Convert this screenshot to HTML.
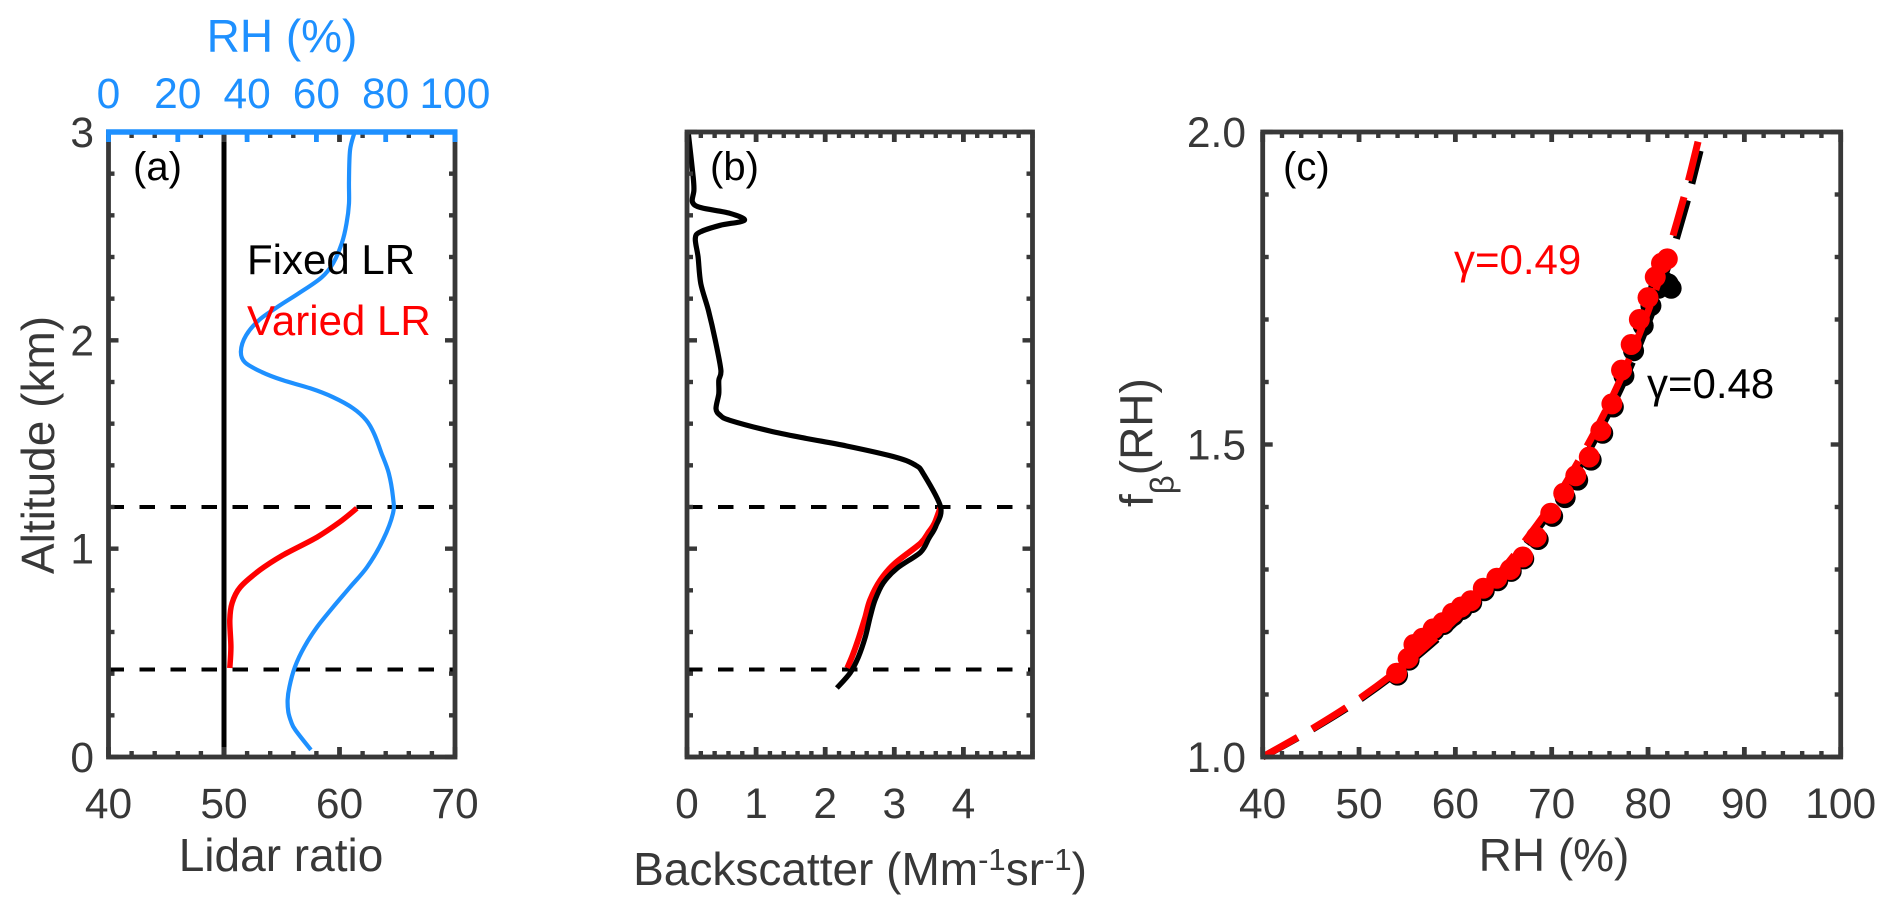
<!DOCTYPE html>
<html lang="en">
<head>
<meta charset="utf-8">
<title>Lidar ratio, backscatter and f(RH) profiles</title>
<style>
html,body{margin:0;padding:0;background:#fff;width:1892px;height:911px;overflow:hidden}
svg{display:block;font-family:"Liberation Sans",Arial,sans-serif}
</style>
</head>
<body>
<svg id="chart" xmlns="http://www.w3.org/2000/svg" width="1892" height="911" viewBox="0 0 1892 911"></svg>
<script>
// ---- Tick labels ----
const altitudeTicks = [0, 1, 2, 3];
const lidarRatioTicks = [40, 50, 60, 70];
const rhTopTicks = [0, 20, 40, 60, 80, 100];
const backscatterTicks = [0, 1, 2, 3, 4];
const rhTicks = [40, 50, 60, 70, 80, 90, 100];
const fTicks = [1.0, 1.5, 2.0];
const fTickLabels = ['1.0', '1.5', '2.0'];

// ---- Reference altitudes (km) ----
const boundaryAltitudes = [1.2, 0.42];

// ---- Panel (a) ----
const fixedLrValue = [50, 50];
const fixedLrAlt = [0, 3];
const variedLrValue = [61.5, 60.0, 58.05, 55.1, 53.1, 51.4, 50.7, 50.5, 50.6, 50.5];
const variedLrAlt = [1.194, 1.127, 1.055, 0.969, 0.897, 0.815, 0.739, 0.657, 0.528, 0.427];
const rhProfileValue = [70.9, 69.7, 69.4, 69.4, 68.7, 67.3, 64.8, 61.5, 55.3, 49.5, 43.7, 39.7, 38.2, 39.4, 44.3, 50.4, 58.2, 64.8, 70.6, 74.4, 76.6, 78.8, 80.9, 82.1, 82.1, 79.2, 74.6, 69.7, 64.8, 60.2, 56.5, 53.8, 52.2, 51.7, 51.9, 52.7, 53.9, 58.4];
const rhProfileAlt = [2.993, 2.911, 2.767, 2.657, 2.561, 2.465, 2.369, 2.302, 2.23, 2.168, 2.101, 2.024, 1.947, 1.894, 1.847, 1.808, 1.77, 1.727, 1.674, 1.616, 1.554, 1.458, 1.362, 1.247, 1.17, 1.041, 0.911, 0.815, 0.719, 0.624, 0.528, 0.432, 0.336, 0.273, 0.216, 0.17, 0.13, 0.034];

// ---- Panel (b) ----
const backscatterFixed = [0.02, 0.09, 0.10, 0.08, 0.21, 0.62, 0.83, 0.48, 0.19, 0.12, 0.16, 0.20, 0.31, 0.41, 0.49, 0.46, 0.46, 0.42, 0.48, 0.62, 1.20, 1.73, 2.31, 3.04, 3.31, 3.42, 3.67, 3.60, 3.50, 3.38, 3.04, 2.84, 2.72, 2.65, 2.58, 2.48, 2.36, 2.17];
const backscatterFixedAlt = [2.99, 2.783, 2.72, 2.663, 2.636, 2.61, 2.576, 2.552, 2.52, 2.488, 2.40, 2.272, 2.144, 2.0, 1.856, 1.808, 1.744, 1.672, 1.64, 1.616, 1.565, 1.529, 1.493, 1.437, 1.40, 1.36, 1.2, 1.108, 1.05, 0.983, 0.906, 0.835, 0.753, 0.671, 0.576, 0.48, 0.403, 0.331];
const backscatterVaried = [3.67, 3.58, 3.50, 3.38, 3.01, 2.80, 2.65, 2.58, 2.49, 2.41, 2.32];
const backscatterVariedAlt = [1.2, 1.12, 1.08, 1.026, 0.93, 0.849, 0.753, 0.671, 0.576, 0.499, 0.427];

// ---- Panel (c) ----
const fitRh = [40, 45, 50, 55, 60, 65, 70, 72.5, 75, 77.5, 80, 82, 84, 85.4];
const fitBlack = [1.0, 1.043, 1.091, 1.148, 1.215, 1.295, 1.395, 1.454, 1.523, 1.601, 1.694, 1.782, 1.886, 1.97];
const fitRed = [1.0, 1.044, 1.093, 1.151, 1.22, 1.302, 1.404, 1.466, 1.536, 1.617, 1.713, 1.804, 1.911, 1.998];
const blackPointsRh = [54.0, 55.2, 55.8, 56.7, 57.8, 58.8, 59.8, 60.7, 61.7, 63.0, 64.4, 65.8, 67.1, 68.6, 70.1, 71.4, 72.7, 74.1, 75.3, 76.4, 77.5, 78.5, 79.5, 80.3, 81.1, 81.7, 82.1, 82.4];
const blackPointsF = [1.131, 1.155, 1.176, 1.187, 1.202, 1.212, 1.226, 1.236, 1.247, 1.266, 1.282, 1.297, 1.317, 1.348, 1.385, 1.415, 1.443, 1.475, 1.518, 1.56, 1.61, 1.65, 1.69, 1.722, 1.75, 1.76, 1.757, 1.75];
const redPointsRh = [53.9, 55.1, 55.7, 56.6, 57.7, 58.7, 59.7, 60.6, 61.6, 62.9, 64.3, 65.7, 67.0, 68.4, 69.9, 71.25, 72.5, 73.9, 75.1, 76.25, 77.25, 78.25, 79.1, 80.0, 80.75, 81.4, 82.0];
const redPointsF = [1.134, 1.158, 1.18, 1.19, 1.205, 1.215, 1.23, 1.24, 1.25, 1.27, 1.286, 1.30, 1.32, 1.352, 1.39, 1.422, 1.45, 1.48, 1.522, 1.565, 1.619, 1.66, 1.70, 1.735, 1.768, 1.79, 1.797];

// ---- Layout ----
const NS = 'http://www.w3.org/2000/svg';
const svg = document.getElementById('chart');
const AXIS = '#383838', BLUE = '#1e90ff', RED = '#ff0000', BLACK = '#000000';
const TOP = 132, BOTTOM = 757;
const TICK_SIZE = 42.5, LABEL_SIZE = 46, NOTE_SIZE = 40, LEGEND_SIZE = 42;

function linear(d0, d1, r0, r1) {
  return v => r0 + (v - d0) / (d1 - d0) * (r1 - r0);
}
function make(tag, attrs, parent) {
  const n = document.createElementNS(NS, tag);
  for (const k in attrs) n.setAttribute(k, attrs[k]);
  (parent || svg).appendChild(n);
  return n;
}
function smoothPath(px, py) {
  let d = 'M' + px[0].toFixed(1) + ' ' + py[0].toFixed(1);
  for (let i = 0; i < px.length - 1; i++) {
    const i0 = Math.max(i - 1, 0), i3 = Math.min(i + 2, px.length - 1);
    const t = 0.16;
    const c1x = px[i] + (px[i + 1] - px[i0]) * t, c1y = py[i] + (py[i + 1] - py[i0]) * t;
    const c2x = px[i + 1] - (px[i3] - px[i]) * t, c2y = py[i + 1] - (py[i3] - py[i]) * t;
    d += 'C' + [c1x, c1y, c2x, c2y, px[i + 1], py[i + 1]].map(v => v.toFixed(1)).join(' ');
  }
  return d;
}
function drawCurve(name, xs, ys, sx, sy, color, width, dash) {
  const attrs = {d: smoothPath(xs.map(sx), ys.map(sy)), fill: 'none', stroke: color, 'stroke-width': width, 'stroke-linejoin': 'round'};
  if (dash) attrs['stroke-dasharray'] = dash;
  const p = make('path', attrs);
  
  
  return p;
}
function drawText(name, str, x, y, size, color, anchor, rotate) {
  const attrs = {x: x, y: y, 'font-size': size, fill: color, 'text-anchor': anchor || 'start'};
  if (rotate) attrs.transform = 'rotate(' + rotate + ' ' + x + ' ' + y + ')';
  const t = make('text', attrs);
  t.textContent = str;
  
  
  return t;
}
function drawTickSet(group, values, minorStep, scale, pos, dir, vertical) {
  const range = scale.domain;
  for (let v = range[0], i = 0; v <= range[1] + 1e-6; i++, v = range[0] + i * minorStep) {
    const major = values.some(m => Math.abs(m - v) < 1e-6);
    const len = major ? 10 : 6;
    const c = scale(v);
    const line = vertical
      ? make('line', {x1: pos, x2: pos + dir * len, y1: c, y2: c, stroke: AXIS, 'stroke-width': 4.4}, group)
      : make('line', {y1: pos, y2: pos + dir * len, x1: c, x2: c, stroke: AXIS, 'stroke-width': major ? 4.8 : 4.4}, group);
    
    
  }
}
function withDomain(fn, d0, d1) { fn.domain = [d0, d1]; return fn; }

function drawFrame(prefix, L, R, sx, xTicks, xMinor, sy, yTicks, yMinor) {
  const g = make('g', {});
  
  
  drawTickSet(g, xTicks, xMinor, sx, BOTTOM, -1, false);
  drawTickSet(g, xTicks, xMinor, sx, TOP, 1, false);
  drawTickSet(g, yTicks, yMinor, sy, L, 1, true);
  drawTickSet(g, yTicks, yMinor, sy, R, -1, true);
  const box = make('rect', {x: L, y: TOP, width: R - L, height: BOTTOM - TOP, fill: 'none', stroke: AXIS, 'stroke-width': 4.8}, g);
  
  
}
function drawDashes(prefix, L, R, sy) {
  boundaryAltitudes.forEach(a => {
    const l = make('line', {x1: L, x2: R, y1: sy(a), y2: sy(a), stroke: BLACK, 'stroke-width': 4, 'stroke-dasharray': '15.5 15.5'});
    
    
  });
}
function drawXLabels(prefix, values, labels, sx) {
  values.forEach((v, i) => drawText(prefix + '-x-tick-label', labels[i], sx(v), 818, TICK_SIZE, AXIS, 'middle'));
}

// ---- Panel (a) ----
const aL = 108.5, aR = 455;
const aX = withDomain(linear(40, 70, aL, aR), 40, 70);
const aRh = withDomain(linear(0, 100, aL, aR), 0, 100);
const altY = withDomain(linear(0, 3, BOTTOM, TOP), 0, 3);

drawDashes('panel-a', aL, aR, altY);
drawCurve('rh-profile', rhProfileValue, rhProfileAlt, aRh, altY, BLUE, 4.2);
drawCurve('fixed-lr-line', fixedLrValue, fixedLrAlt, aX, altY, BLACK, 5);
drawCurve('varied-lr-line', variedLrValue, variedLrAlt, aX, altY, RED, 5.5);
drawFrame('panel-a', aL, aR, aX, lidarRatioTicks, 2, altY, altitudeTicks, 0.2);

// blue top axis
const topAxis = make('g', {});


rhTopTicks.forEach(v => {
  const t = make('line', {x1: aRh(v), x2: aRh(v), y1: TOP, y2: TOP + 10, stroke: BLUE, 'stroke-width': 4.8}, topAxis);
  
  
});
const topLine = make('line', {x1: aL - 2.4, x2: aR + 2.4, y1: TOP, y2: TOP, stroke: BLUE, 'stroke-width': 5.4}, topAxis);


rhTopTicks.forEach(v => drawText('rh-top-tick-label', String(v), aRh(v), 108, TICK_SIZE, BLUE, 'middle'));
drawText('rh-top-axis-title', 'RH (%)', 282, 52, LABEL_SIZE, BLUE, 'middle');

altitudeTicks.forEach(v => drawText('altitude-tick-label', String(v), 94, altY(v) + 15, TICK_SIZE, AXIS, 'end'));
drawXLabels('panel-a', lidarRatioTicks, lidarRatioTicks.map(String), aX);
drawText('altitude-axis-title', 'Altitude (km)', 54, 445, LABEL_SIZE, AXIS, 'middle', -90);
drawText('lidar-ratio-axis-title', 'Lidar ratio', 281, 871, LABEL_SIZE, AXIS, 'middle');
drawText('panel-a-label', '(a)', 133, 180, NOTE_SIZE, BLACK);
drawText('fixed-lr-legend', 'Fixed LR', 247, 274, LEGEND_SIZE, BLACK);
drawText('varied-lr-legend', 'Varied LR', 247, 335, LEGEND_SIZE, RED);

// ---- Panel (b) ----
const bL = 687, bR = 1032.5;
const bX = withDomain(linear(0, 5, bL, bR), 0, 5);
drawDashes('panel-b', bL, bR, altY);
drawCurve('backscatter-varied-line', backscatterVaried, backscatterVariedAlt, bX, altY, RED, 6);
drawCurve('backscatter-fixed-line', backscatterFixed, backscatterFixedAlt, bX, altY, BLACK, 5.2);
drawFrame('panel-b', bL, bR, bX, backscatterTicks, 0.2, altY, altitudeTicks, 0.2);
drawXLabels('panel-b', backscatterTicks, backscatterTicks.map(String), bX);
drawText('panel-b-label', '(b)', 710, 180, NOTE_SIZE, BLACK);
const bTitle = drawText('backscatter-axis-title', 'Backscatter (Mm', 860, 885, LABEL_SIZE, AXIS, 'middle');
[['-1', -15, 31], ['sr', 15, 46], ['-1', -15, 31], [')', 15, 46]].forEach(part => {
  const s = make('tspan', {dy: part[1], 'font-size': part[2]}, bTitle);
  s.textContent = part[0];
  
  
});

// ---- Panel (c) ----
const cL = 1262.7, cR = 1840.7;
const cX = withDomain(linear(40, 100, cL, cR), 40, 100);
const cY = withDomain(linear(1, 2, BOTTOM, TOP), 1, 2);

drawCurve('fit-black-dashed', fitRh, fitBlack, cX, cY, BLACK, 7, '40 17');
blackPointsRh.forEach((v, i) => {
  const c = make('circle', {cx: cX(v), cy: cY(blackPointsF[i]), r: 10.5, fill: BLACK});
  
  
});
drawCurve('fit-red-dashed', fitRh, fitRed, cX, cY, RED, 7, '40 17');
redPointsRh.forEach((v, i) => {
  const c = make('circle', {cx: cX(v), cy: cY(redPointsF[i]), r: 10.5, fill: RED});
  
  
});
drawFrame('panel-c', cL, cR, cX, rhTicks, 2, cY, fTicks, 0.1);
drawXLabels('panel-c', rhTicks, rhTicks.map(String), cX);
fTicks.forEach((v, i) => drawText('f-tick-label', fTickLabels[i], 1246, cY(v) + 15, TICK_SIZE, AXIS, 'end'));
drawText('panel-c-label', '(c)', 1283, 180, NOTE_SIZE, BLACK);
drawText('gamma-red-label', '\u03B3=0.49', 1454, 274, LEGEND_SIZE, RED);
drawText('gamma-black-label', '\u03B3=0.48', 1647, 398, LEGEND_SIZE, BLACK);
drawText('rh-axis-title', 'RH (%)', 1554, 871, LABEL_SIZE, AXIS, 'middle');
const fTitle = drawText('f-axis-title', 'f', 1152.7, 507, LABEL_SIZE, AXIS, 'start', -90);
[['\u03B2', 21, 33], ['(RH)', -21, 46]].forEach(part => {
  const s = make('tspan', {dy: part[1], 'font-size': part[2]}, fTitle);
  s.textContent = part[0];
  
  
});
</script>
</body>
</html>
